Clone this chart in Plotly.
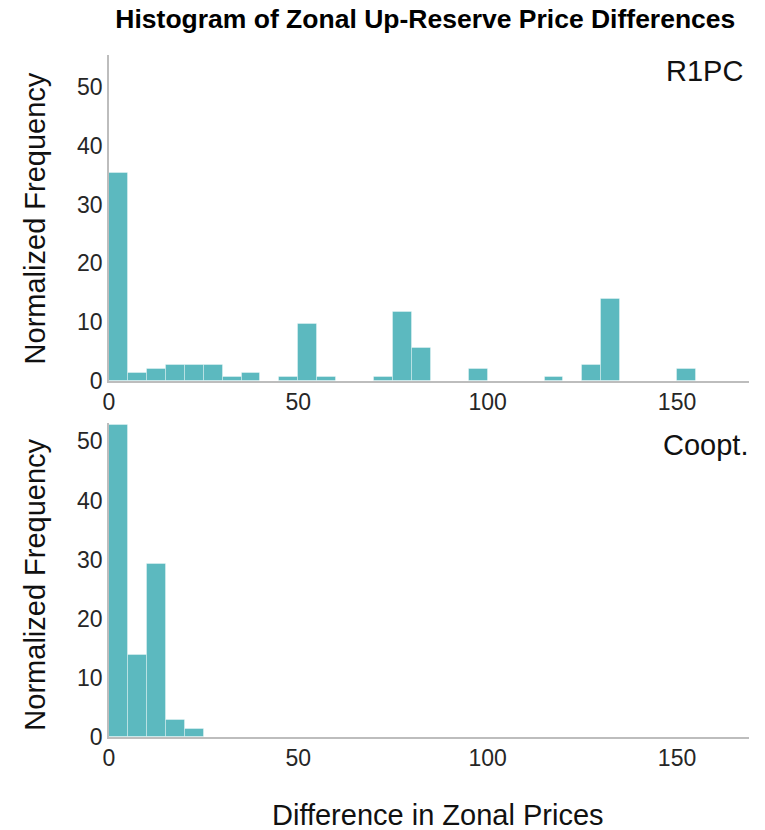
import plotly.graph_objects as go
from plotly.subplots import make_subplots

# Histogram bins (left edges, width 5) and normalized frequencies (%)
bin_width = 5
bin_left = list(range(0, 160, 5))

r1pc_freq = [35.4, 1.4, 2.1, 2.8, 2.8, 2.8, 0.7, 1.4, 0.0, 0.7,
             9.7, 0.7, 0.0, 0.0, 0.7, 11.8, 5.6, 0.0, 0.0, 2.1,
             0.0, 0.0, 0.0, 0.7, 0.0, 2.8, 13.9, 0.0, 0.0, 0.0,
             2.1, 0.0]

coopt_left = [0, 5, 10, 15, 20]
coopt_freq = [52.8, 13.9, 29.2, 2.8, 1.4]

x_ticks = [0, 50, 100, 150]
y_ticks = [0, 10, 20, 30, 40, 50]

BAR = "#5cb9bf"
EDGE = "rgba(255,255,255,0.35)"
AXIS = "#bdbdbd"
FONT = "Liberation Sans, Arial, sans-serif"

fig = make_subplots(rows=2, cols=1, vertical_spacing=0.0615)
fig.update_layout(yaxis=dict(domain=[0.522, 1.0]), yaxis2=dict(domain=[0.0, 0.4604]))

fig.add_trace(go.Bar(x=[b + bin_width / 2 for b in bin_left], y=r1pc_freq,
                     width=bin_width, marker=dict(color=BAR, line=dict(color=EDGE, width=1)),
                     showlegend=False), row=1, col=1)
fig.add_trace(go.Bar(x=[b + bin_width / 2 for b in coopt_left], y=coopt_freq,
                     width=bin_width, marker=dict(color=BAR, line=dict(color=EDGE, width=1)),
                     showlegend=False), row=2, col=1)

axis_common = dict(showgrid=False, zeroline=False, showline=True, linecolor=AXIS,
                   linewidth=1.5, ticks="", tickfont=dict(family=FONT, size=23, color="#262626"))
for r in (1, 2):
    fig.update_xaxes(range=[0, 169], tickvals=x_ticks, row=r, col=1, **axis_common)
fig.update_yaxes(range=[0, 55.4], tickvals=y_ticks, row=1, col=1, **axis_common)
fig.update_yaxes(range=[0, 53.1], tickvals=y_ticks, row=2, col=1, **axis_common)

ann = []
ann.append(dict(text="R1PC", xref="x domain", yref="y domain", x=1.0, y=0.95,
                xanchor="right", yanchor="middle", showarrow=False, xshift=-4,
                font=dict(family=FONT, size=29, color="#111")))
ann.append(dict(text="Coopt.", xref="x2 domain", yref="y2 domain", x=1.0, y=0.93,
                xanchor="right", yanchor="middle", showarrow=False, xshift=1,
                font=dict(family=FONT, size=29, color="#111")))
for yd in (0.761, 0.224):
    ann.append(dict(text="Normalized Frequency", xref="paper", yref="paper",
                    x=-0.115, y=yd, textangle=-90, xanchor="center", yanchor="middle",
                    showarrow=False, font=dict(family=FONT, size=29, color="#111")))
ann.append(dict(text="Difference in Zonal Prices", xref="paper", yref="paper",
                x=0.514, y=-0.114, xanchor="center", yanchor="middle", showarrow=False,
                font=dict(family=FONT, size=29, color="#111")))

fig.update_layout(
    width=765, height=830,
    margin=dict(l=109, r=16, t=55, b=93),
    paper_bgcolor="white", plot_bgcolor="white",
    bargap=0,
    title=dict(text="<b>Histogram of Zonal Up-Reserve Price Differences</b>",
               x=0.556, xanchor="center", y=0.978, yanchor="middle",
               font=dict(family=FONT, size=26.5, color="#000")),
    annotations=ann,
)

fig.write_html("out.html")
